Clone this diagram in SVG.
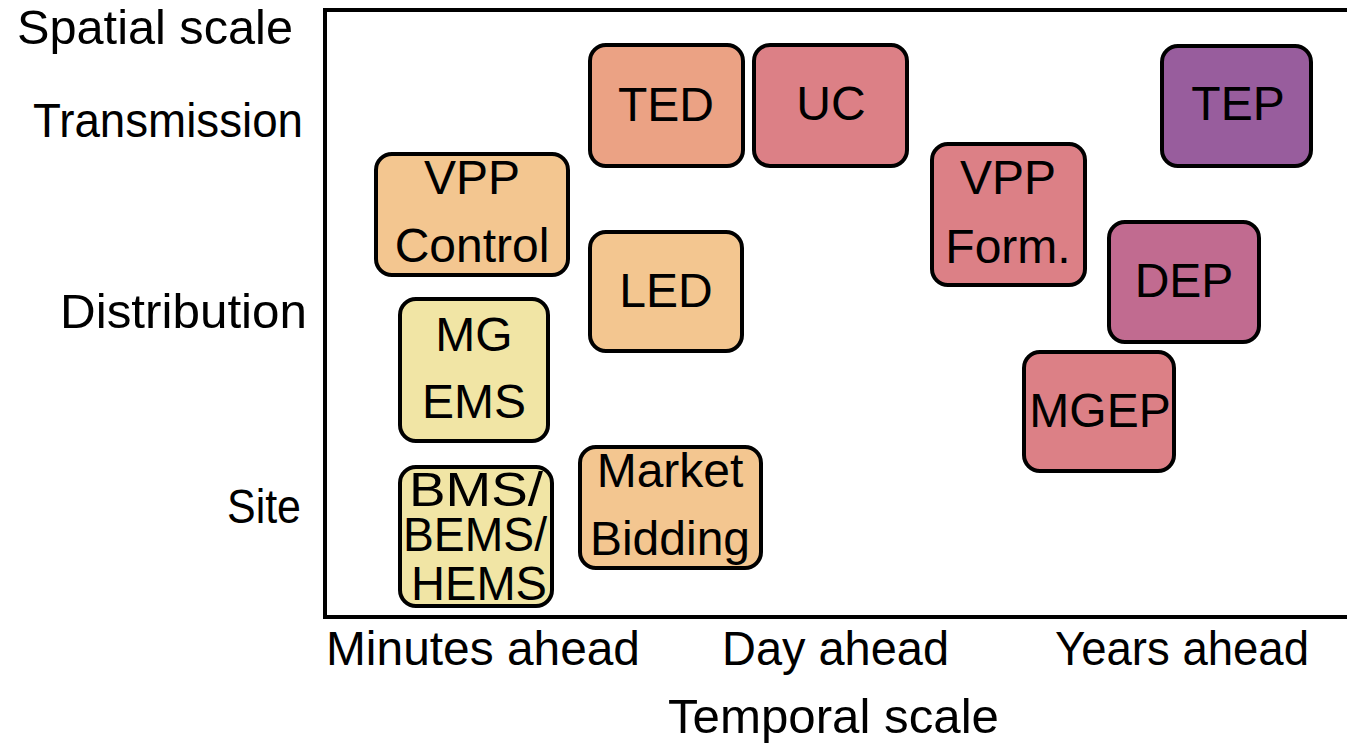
<svg xmlns="http://www.w3.org/2000/svg" width="1347" height="744" viewBox="0 0 1347 744">
  <style>
    text { font-family: "Liberation Sans", Arial, sans-serif; font-size: 48px; fill: #000; }
    .c { text-anchor: middle; }
    .r { text-anchor: end; }
    .box { stroke: #000; stroke-width: 4; }
    .yellow { fill: #F1E5A5; }
    .orange { fill: #F3C690; }
    .peach { fill: #EBA284; }
    .rose { fill: #DC8086; }
    .mauve { fill: #C16B90; }
    .purple { fill: #985D9D; }
  </style>
  <rect width="1347" height="744" fill="#fff"/>

  <!-- plot frame (open on the right) -->
  <g id="axes">
    <path d="M1360 10 H325 V617 H1360" fill="none" stroke="#000" stroke-width="4"/>
    <text x="17" y="44" textLength="276" lengthAdjust="spacingAndGlyphs">Spatial scale</text>
    <text x="33" y="137" textLength="270" lengthAdjust="spacingAndGlyphs">Transmission</text>
    <text x="60" y="328" textLength="247" lengthAdjust="spacingAndGlyphs">Distribution</text>
    <text x="227" y="523" textLength="74" lengthAdjust="spacingAndGlyphs">Site</text>
    <text x="326" y="665" textLength="314" lengthAdjust="spacingAndGlyphs">Minutes ahead</text>
    <text x="722" y="665" textLength="227" lengthAdjust="spacingAndGlyphs">Day ahead</text>
    <text x="1055" y="665" textLength="254" lengthAdjust="spacingAndGlyphs">Years ahead</text>
    <text x="668" y="733" textLength="331" lengthAdjust="spacingAndGlyphs">Temporal scale</text>
  </g>

  <g id="connectors"/>

  <g id="ted">
    <rect class="box peach" x="590" y="45" width="153" height="121" rx="16"/>
    <text class="c" x="666" y="121">TED</text>
  </g>
  <g id="uc">
    <rect class="box rose" x="754" y="45" width="153" height="121" rx="16"/>
    <text class="c" x="831" y="120">UC</text>
  </g>
  <g id="vpp-control">
    <rect class="box orange" x="376" y="154" width="192" height="121" rx="16"/>
    <text class="c" x="472" y="194">VPP</text>
    <text class="c" x="472" y="262">Control</text>
  </g>
  <g id="led">
    <rect class="box orange" x="590" y="232" width="152" height="119" rx="16"/>
    <text class="c" x="666" y="307">LED</text>
  </g>
  <g id="mg-ems">
    <rect class="box yellow" x="400" y="299" width="148" height="142" rx="16"/>
    <text class="c" x="474" y="351">MG</text>
    <text class="c" x="474" y="418">EMS</text>
  </g>
  <g id="bms">
    <rect class="box yellow" x="400" y="467" width="152" height="139" rx="16"/>
    <text class="c" x="476" y="506" textLength="134" lengthAdjust="spacingAndGlyphs">BMS/</text>
    <text class="c" x="475" y="551" textLength="144" lengthAdjust="spacingAndGlyphs">BEMS/</text>
    <text class="c" x="479" y="600" textLength="136" lengthAdjust="spacingAndGlyphs">HEMS</text>
  </g>
  <g id="market-bidding">
    <rect class="box orange" x="580" y="447" width="181" height="121" rx="16"/>
    <text class="c" x="670" y="487">Market</text>
    <text class="c" x="670" y="555">Bidding</text>
  </g>
  <g id="vpp-form">
    <rect class="box rose" x="932" y="144" width="153" height="141" rx="16"/>
    <text class="c" x="1008" y="194">VPP</text>
    <text class="c" x="1008" y="263">Form.</text>
  </g>
  <g id="tep">
    <rect class="box purple" x="1162" y="46" width="149" height="120" rx="16"/>
    <text class="c" x="1238" y="120">TEP</text>
  </g>
  <g id="dep">
    <rect class="box mauve" x="1109" y="222" width="150" height="120" rx="16"/>
    <text class="c" x="1184" y="297">DEP</text>
  </g>
  <g id="mgep">
    <rect class="box rose" x="1024" y="352" width="150" height="119" rx="16"/>
    <text class="c" x="1100" y="427">MGEP</text>
  </g>
</svg>
